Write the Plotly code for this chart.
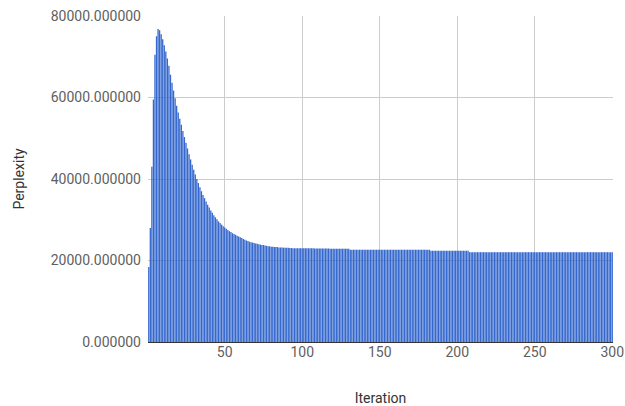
import plotly.graph_objects as go

iterations = list(range(1, 301))
perplexity = [
    18400, 28000, 43000, 59500, 70500, 75000, 76800, 76500, 75500, 74300,
    72800, 71300, 69600, 67800, 65600, 63600, 61700, 59800, 58000, 56300,
    54800, 53300, 51800, 50300, 48900, 47500, 46100, 44800, 43500, 42300,
    41100, 40000, 39000, 38000, 37000, 36100, 35300, 34500, 33700, 33000,
    32300, 31700, 31100, 30600, 30100, 29600, 29200, 28800, 28400, 28100,
    27800, 27500, 27200, 27000, 26700, 26500, 26300, 26100, 25900, 25700,
    25500, 25300, 25100, 24900, 24800, 24600, 24500, 24400, 24300, 24200,
    24100, 24000, 23900, 23800, 23800, 23700, 23600, 23500, 23500, 23400,
    23400, 23300, 23300, 23300, 23200, 23200, 23200, 23150, 23150, 23100,
    23100, 23050, 23050, 23000, 23000, 23000, 23000, 23000, 23000, 23000,
    23000, 23000, 23000, 23000, 23000, 23000, 23000, 22950, 22950, 22950,
    22950, 22950, 22950, 22950, 22950, 22950, 22950, 22900, 22900, 22900,
    22900, 22900, 22900, 22900, 22900, 22900, 22900, 22900, 22900, 22900,
    22650, 22650, 22650, 22650, 22650, 22650, 22650, 22650, 22650, 22650,
    22650, 22650, 22650, 22650, 22650, 22650, 22650, 22650, 22650, 22650,
    22650, 22650, 22650, 22650, 22650, 22650, 22650, 22650, 22650, 22650,
    22650, 22650, 22650, 22650, 22650, 22650, 22650, 22650, 22650, 22650,
    22650, 22650, 22650, 22650, 22650, 22650, 22650, 22650, 22650, 22650,
    22650, 22650, 22400, 22400, 22400, 22400, 22400, 22400, 22400, 22400,
    22400, 22400, 22400, 22400, 22400, 22400, 22400, 22400, 22400, 22400,
    22400, 22400, 22400, 22400, 22400, 22400, 22400, 22050, 22050, 22050,
    22050, 22050, 22050, 22050, 22050, 22050, 22050, 22050, 22050, 22050,
    22050, 22050, 22050, 22050, 22050, 22050, 22050, 22050, 22050, 22050,
    22050, 22050, 22050, 22050, 22050, 22050, 22050, 22050, 22050, 22050,
    22050, 22050, 22050, 22050, 22050, 22050, 22050, 22050, 22050, 22050,
    22050, 22050, 22050, 22050, 22050, 22050, 22050, 22050, 22050, 22050,
    22050, 22050, 22050, 22050, 22050, 22050, 22050, 22050, 22050, 22050,
    22050, 22050, 22050, 22050, 22050, 22050, 22050, 22050, 22050, 22050,
    22050, 22050, 22050, 22050, 22050, 22050, 22050, 22050, 22050, 22050,
    22050, 22050, 22050, 22050, 22050, 22050, 22050, 22050, 22050, 22050,
]
x_ticks = [50, 100, 150, 200, 250, 300]
y_ticks = [0, 20000, 40000, 60000, 80000]

fig = go.Figure(go.Bar(
    x=iterations, y=perplexity,
    marker=dict(color="rgba(51,102,204,0.99)", line=dict(width=0)),
))

fig.update_layout(
    width=625, height=406,
    margin=dict(l=148, r=12, t=16, b=64),
    paper_bgcolor="white", plot_bgcolor="white",
    bargap=0.15,
    showlegend=False,
    font=dict(family="Roboto", size=14, color="#5f5f5f"),
    xaxis=dict(
        range=[0.5, 300.5], tickvals=x_ticks, automargin=False,
        showgrid=True, gridcolor="#cccccc", gridwidth=1,
        zeroline=False, showline=False, ticks="",
        tickfont=dict(color="#5f5f5f", size=14),
        title=dict(text="Iteration", font=dict(color="#333333", size=14), standoff=34),
    ),
    yaxis=dict(
        range=[0, 80000], tickvals=y_ticks, tickformat=".6f", automargin=False,
        showgrid=True, gridcolor="#cccccc", gridwidth=1,
        zeroline=True, zerolinecolor="#333333", zerolinewidth=1,
        showline=False, ticks="", ticklabelstandoff=6,
        tickfont=dict(color="#5f5f5f", size=14),
        title=dict(text="Perplexity", font=dict(color="#333333", size=14), standoff=22),
    ),
)

fig.write_html(
    "out.html",
    config={"displayModeBar": False},
    post_script="document.body.style.margin='0';document.body.style.overflow='hidden';",
)
